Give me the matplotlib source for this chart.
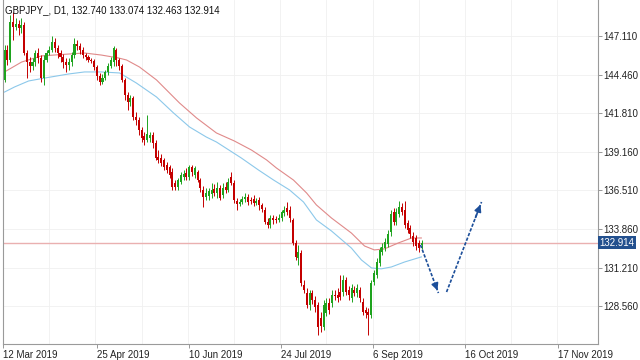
import matplotlib
matplotlib.use("Agg")
import matplotlib.pyplot as plt
import numpy as np

# daily candles, GBPJPY
opens = [144.09, 146.15, 145.46, 148.07, 147.73, 147.93, 147.66, 147.86, 145.94, 145.32,
         145.05, 145.32, 145.94, 145.60, 144.22, 145.46, 145.94, 146.15, 146.70, 146.28,
         145.94, 145.67, 145.32, 145.12, 145.32, 145.80, 146.56, 146.42, 146.15, 145.80,
         145.67, 145.46, 145.39, 144.98, 144.36, 143.95, 144.22, 144.64, 145.05, 145.32,
         146.15, 145.46, 145.05, 144.09, 143.06, 142.58, 142.85, 141.55, 141.34, 140.66,
         140.24, 139.97, 140.11, 140.31, 139.76, 138.80, 138.73, 138.60, 138.25, 138.12,
         137.77, 137.02, 136.74, 137.09, 137.43, 137.70, 137.43, 138.12, 137.57, 137.77,
         137.22, 136.54, 136.06, 136.13, 136.26, 136.61, 136.33, 136.67, 136.19, 136.74,
         136.54, 137.43, 137.02, 135.78, 135.58, 135.71, 135.92, 136.06, 135.85, 135.92,
         135.64, 135.85, 135.51, 135.17, 134.34, 134.13, 134.61, 134.55, 134.48, 134.61,
         134.96, 135.30, 135.17, 134.48, 132.90, 131.87, 132.21, 130.02, 129.46, 128.64,
         129.46, 128.99, 128.64, 127.75, 127.13, 128.09, 128.78, 128.78, 129.33, 129.33,
         129.53, 129.53, 130.36, 129.67, 129.12, 129.67, 129.46, 129.67, 128.85, 128.30,
         128.16, 127.96, 130.22, 130.70, 131.53, 132.28, 132.55, 132.83, 133.65, 135.03,
         134.34, 134.89, 135.37, 135.17, 134.27, 133.93, 133.38, 133.24, 132.90, 132.740]
highs = [146.49, 146.49, 148.55, 148.76, 148.34, 148.21, 148.34, 148.07, 146.15, 145.67,
         145.60, 146.15, 146.28, 145.80, 145.80, 146.15, 146.42, 147.11, 146.97, 146.49,
         146.15, 145.87, 145.60, 145.60, 146.01, 146.97, 146.83, 146.63, 146.35, 145.94,
         145.80, 145.60, 145.53, 145.12, 144.57, 144.50, 144.77, 145.26, 145.67, 146.42,
         146.28, 145.60, 145.19, 144.22, 143.26, 143.06, 142.99, 141.89, 141.55, 140.86,
         140.52, 141.69, 140.52, 140.52, 139.97, 139.28, 139.01, 138.73, 138.46, 138.25,
         138.05, 137.22, 137.36, 137.77, 137.91, 138.05, 138.25, 138.25, 138.18, 137.91,
         137.36, 136.81, 136.67, 136.67, 137.02, 136.95, 137.09, 136.88, 137.02, 137.09,
         137.36, 137.77, 137.22, 135.99, 135.92, 136.13, 136.33, 136.26, 136.06, 136.19,
         135.99, 136.06, 135.64, 135.37, 134.61, 134.82, 134.82, 134.75, 134.89, 135.17,
         135.44, 135.71, 135.44, 134.61, 133.10, 132.76, 132.42, 130.36, 129.81, 129.67,
         129.67, 129.26, 128.85, 128.16, 128.99, 129.12, 129.12, 129.67, 129.67, 129.81,
         130.70, 130.70, 130.56, 129.95, 130.08, 129.95, 130.08, 129.88, 129.12, 128.50,
         128.44, 130.36, 131.05, 131.87, 132.62, 132.90, 133.24, 133.79, 135.17, 135.30,
         135.30, 135.78, 135.64, 135.78, 134.48, 134.13, 133.65, 133.45, 133.10, 133.074]
lows = [143.95, 145.12, 145.32, 146.83, 147.52, 147.18, 147.31, 145.80, 144.22, 144.64,
        144.77, 145.05, 145.26, 143.95, 143.74, 145.32, 145.80, 146.01, 146.01, 145.60,
        145.32, 144.91, 144.64, 144.77, 145.05, 145.60, 146.15, 145.87, 145.60, 145.46,
        145.32, 145.26, 144.77, 144.09, 143.74, 143.81, 144.09, 144.43, 144.91, 145.05,
        145.05, 144.77, 143.95, 142.72, 142.03, 142.30, 141.34, 141.00, 140.31, 139.83,
        139.63, 139.83, 139.83, 139.42, 138.60, 138.39, 138.18, 137.91, 137.70, 137.36,
        136.54, 136.54, 136.54, 136.95, 137.22, 137.22, 137.22, 137.50, 137.36, 137.09,
        136.40, 135.37, 135.85, 135.85, 135.99, 136.13, 135.99, 135.85, 135.99, 136.33,
        136.40, 136.88, 135.64, 135.17, 135.44, 135.58, 135.71, 135.51, 135.58, 135.44,
        135.51, 135.17, 135.03, 134.20, 133.93, 133.93, 134.20, 134.27, 134.34, 134.41,
        134.75, 134.82, 134.34, 132.76, 131.73, 131.39, 129.95, 129.46, 128.44, 128.30,
        128.71, 128.16, 126.58, 126.79, 126.93, 127.89, 128.02, 128.50, 128.99, 128.85,
        128.99, 129.26, 129.33, 128.99, 128.85, 129.26, 129.19, 128.85, 127.96, 127.75,
        126.58, 127.75, 130.02, 130.50, 131.32, 132.07, 132.35, 132.62, 133.38, 134.13,
        134.13, 134.68, 134.82, 133.93, 133.58, 133.24, 132.69, 132.42, 132.28, 132.463]
closes = [146.15, 145.46, 148.07, 147.73, 147.93, 147.66, 147.86, 145.94, 145.32, 145.05,
          145.32, 145.94, 145.60, 144.22, 145.46, 145.94, 146.15, 146.70, 146.28, 145.94,
          145.67, 145.32, 145.12, 145.32, 145.80, 146.56, 146.42, 146.15, 145.80, 145.67,
          145.46, 145.39, 144.98, 144.36, 143.95, 144.22, 144.64, 145.05, 145.46, 146.28,
          145.46, 145.05, 144.09, 143.06, 142.58, 142.85, 141.55, 141.34, 140.66, 140.11,
          139.97, 140.38, 140.31, 139.76, 138.73, 138.60, 138.39, 138.12, 137.91, 137.57,
          136.74, 136.74, 137.22, 137.57, 137.63, 137.43, 138.12, 137.77, 138.05, 137.22,
          136.67, 136.06, 136.33, 136.47, 136.54, 136.33, 136.67, 135.99, 136.67, 136.54,
          137.09, 137.02, 135.85, 135.58, 135.71, 135.92, 136.06, 135.71, 135.78, 135.64,
          135.78, 135.51, 135.23, 134.34, 134.13, 134.61, 134.48, 134.48, 134.61, 135.03,
          135.17, 135.03, 134.61, 132.90, 131.94, 132.28, 130.15, 129.67, 128.64, 129.46,
          128.99, 128.50, 127.13, 127.20, 128.64, 128.78, 128.30, 129.33, 129.26, 129.12,
          129.19, 130.36, 129.53, 129.33, 129.81, 129.46, 129.81, 129.12, 128.16, 128.09,
          127.96, 130.15, 130.84, 131.59, 132.42, 132.62, 132.97, 133.52, 134.89, 134.34,
          135.03, 135.37, 135.03, 134.13, 133.79, 133.52, 132.97, 132.69, 132.55, 132.914]

# moving average lines (bar index, price)
ma_red_x = [0, 6.1, 13.2, 22.9, 28.6, 34.6, 40.7, 43.6, 48.2, 54.3, 62.5, 68.6, 75.7, 82.1,
            88.2, 93.6, 97.1, 103.2, 107.9, 111.4, 116.8, 123.9, 128.6, 132.1, 135.7,
            140.7, 145.4, 148.9]
ma_red_y = [144.64, 145.32, 145.74, 145.87, 145.94, 145.80, 145.60, 145.46, 144.98, 144.09,
            142.51, 141.48, 140.45, 139.90, 139.28, 138.60, 138.05, 137.22, 136.33, 135.51,
            134.61, 133.58, 132.69, 132.42, 132.49, 132.90, 133.24, 133.24]
ma_blue_x = [0, 3.6, 8.6, 14.3, 22.9, 28.6, 34.6, 41.1, 47.1, 54.3, 60.4, 66.1, 72.1, 75.7,
             84.6, 90.7, 96.1, 101.8, 106.8, 111.4, 116.8, 123.9, 127.5, 131.1, 134.6,
             138.2, 142.9, 148.9]
ma_blue_y = [143.26, 143.61, 144.02, 144.22, 144.50, 144.64, 144.64, 144.57, 143.88, 142.92,
             141.82, 140.86, 140.17, 139.83, 138.73, 137.91, 137.22, 136.54, 135.71, 134.48,
             133.72, 132.55, 131.73, 131.18, 131.12, 131.25, 131.59, 131.94]

# projection arrows (start bar, start price, end bar, end price)
arrows = [(148.6, 132.76, 155.0, 129.46), (157.9, 129.53, 170.4, 135.71)]

last_price = 132.914
title = "GBPJPY_, D1, 132.740 133.074 132.463 132.914"
yticks = [147.110, 144.460, 141.810, 139.160, 136.510, 133.860, 131.210, 128.560]
xtick_pos = [-0.5, 33, 66, 98.75, 131.6, 164.5, 197.7]
xtick_labels = ["12 Mar 2019", "25 Apr 2019", "10 Jun 2019", "24 Jul 2019",
                "6 Sep 2019", "16 Oct 2019", "17 Nov 2019"]

plt.rcParams['font.family'] = ['Liberation Sans', 'DejaVu Sans']

fig = plt.figure(figsize=(6.4, 3.6), dpi=100)
ax = fig.add_axes([3 / 640, 16 / 360, 595 / 640, 344 / 360])

o = np.array(opens)
h = np.array(highs)
l = np.array(lows)
c = np.array(closes)
x = np.arange(len(c))
up = c >= o
green = "#1ea31e"
red = "#c40000"
cols = np.where(up, green, red)

ax.vlines(x, l, h, colors=cols, lw=0.7, zorder=3)
body = np.maximum(np.abs(c - o), 0.04)
ax.bar(x, body, bottom=np.minimum(o, c), width=0.72, color=cols, linewidth=0, zorder=4)

ax.plot(ma_red_x, ma_red_y, color="#e08a8a", lw=0.8, zorder=2)
ax.plot(ma_blue_x, ma_blue_y, color="#8cc8ea", lw=0.8, zorder=2)

ax.axhline(last_price, color="#eab0b0", lw=1.0, zorder=1)

arrow_col = "#1d4f9a"
for x0, y0, x1, y1 in arrows:
    ax.plot([x0, x1], [y0, y1], color=arrow_col, lw=1.2, ls=(0, (2, 1)), zorder=5)
    ax.annotate("", xy=(x1, y1), xytext=(x0 + (x1 - x0) * 0.8, y0 + (y1 - y0) * 0.8),
                arrowprops=dict(arrowstyle="-|>", color=arrow_col, lw=1.2,
                                mutation_scale=10), zorder=6)

ax.set_xlim(-0.54, 212.0)
ax.set_ylim(125.96, 149.58)

# faint grid
for gx in np.arange(-0.5, 212, 16.5):
    ax.axvline(gx, color="#f0f0f0", lw=0.6, zorder=0)
for gy in yticks:
    ax.axhline(gy, color="#f0f0f0", lw=0.6, zorder=0)

ax.yaxis.tick_right()
ax.set_yticks(yticks)
ax.set_yticklabels(["%.3f" % v for v in yticks])
ax.set_xticks(xtick_pos)
ax.set_xticklabels(xtick_labels, ha="left")
ax.tick_params(axis="both", labelsize=7, colors="#888888", labelcolor="#222222",
               length=3, width=0.6, pad=1)
for s in ["left", "bottom", "right"]:
    ax.spines[s].set_color("#9a9a9a")
    ax.spines[s].set_linewidth(0.8)
ax.spines["top"].set_visible(False)

ax.text(0.003, 0.985, title, transform=ax.transAxes, fontsize=7, color="#111111",
        va="top", ha="left")

ax.text(1.003, last_price, "%.3f" % last_price, transform=ax.get_yaxis_transform(),
        fontsize=7, color="white", va="center", ha="left", clip_on=False,
        bbox=dict(boxstyle="square,pad=0.15", facecolor="#23508e", edgecolor="none"))

fig.savefig("out.png", dpi=100)
